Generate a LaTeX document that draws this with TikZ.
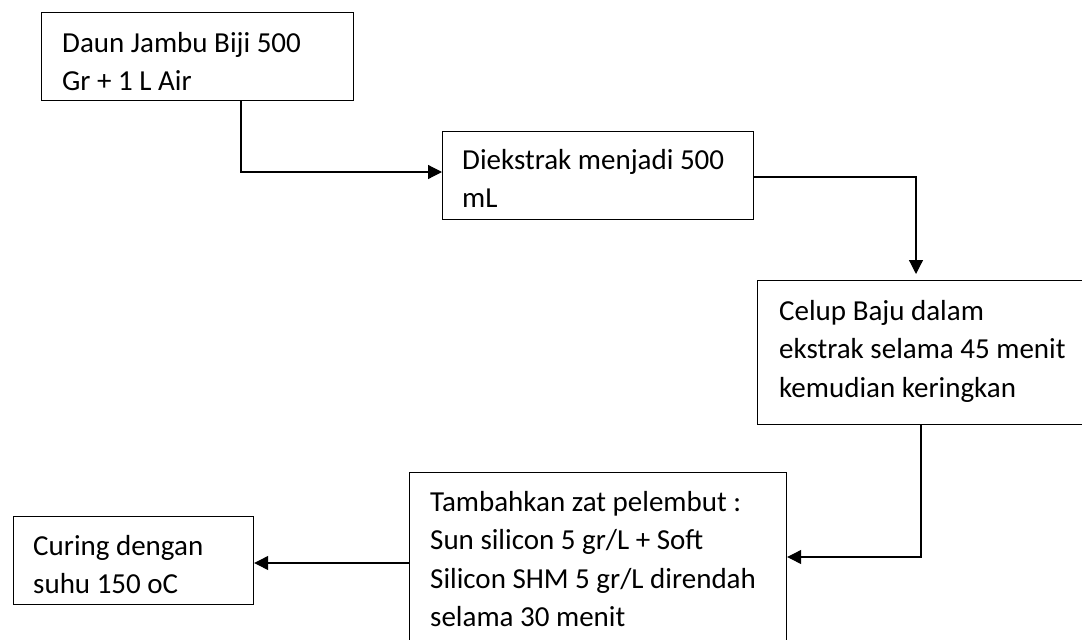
\documentclass[tikz,border=0pt]{standalone}
\usepackage{fontspec}
\setmainfont{Carlito}
\usetikzlibrary{arrows.meta}
\tikzset{
  box/.style={draw=black, line width=1.2pt, rectangle, inner sep=0pt, anchor=north west},
  txt/.style={anchor=north west, inner sep=0pt, align=left, font=\fontsize{29}{38.5}\selectfont},
  arr/.style={draw=black, line width=1.2pt, -{Triangle[length=14pt,width=14pt]}}
}
\newcommand{\topstrut}{\rule{0pt}{23pt}}
\begin{document}
\begin{tikzpicture}[x=1pt,y=-1pt]
\useasboundingbox (0,0) rectangle (1082,640);
\clip (0,0) rectangle (1082,640);
% boxes
\node[box, minimum width=312pt, minimum height=88pt] (b1) at (41,12) {};
\node[box, minimum width=311pt, minimum height=88pt] (b2) at (442,131) {};
\node[box, minimum width=400pt, minimum height=144pt] (b3) at (757,280) {};
\node[box, minimum width=377pt, minimum height=220pt] (b4) at (409,472) {};
\node[box, minimum width=240.5pt, minimum height=88pt] (b5) at (12.5,516) {};
% texts
\node[txt] (t1) at (62,29) {\topstrut Daun Jambu Biji 500\\Gr + 1 L Air};
\node[txt] (t2) at (462,146) {\topstrut Diekstrak menjadi 500\\mL};
\node[txt] (t3) at (779,297) {\topstrut Celup Baju dalam\\ekstrak selama 45 menit\\kemudian keringkan};
\node[txt] (t4) at (430,488) {\topstrut Tambahkan zat pelembut :\\Sun silicon 5 gr/L + Soft\\Silicon SHM 5 gr/L direndah\\selama 30 menit};
\node[txt] (t5) at (33,532) {\topstrut Curing dengan\\suhu 150 oC};
% connectors
\coordinate (k1) at (241,172);
\coordinate (k2) at (916,177);
\coordinate (k3) at (921,557);
\coordinate (k4) at (0,563);
\draw[arr] (b1.south -| k1) |- (b2.west |- k1);
\draw[arr, shorten >=6pt] (b2.east |- k2) -| (b3.north -| k2);
\draw[arr] (b3.south -| k3) |- (b4.east |- k3);
\draw[arr] (b4.west |- k4) -- (b5.east |- k4);
\end{tikzpicture}
\end{document}
